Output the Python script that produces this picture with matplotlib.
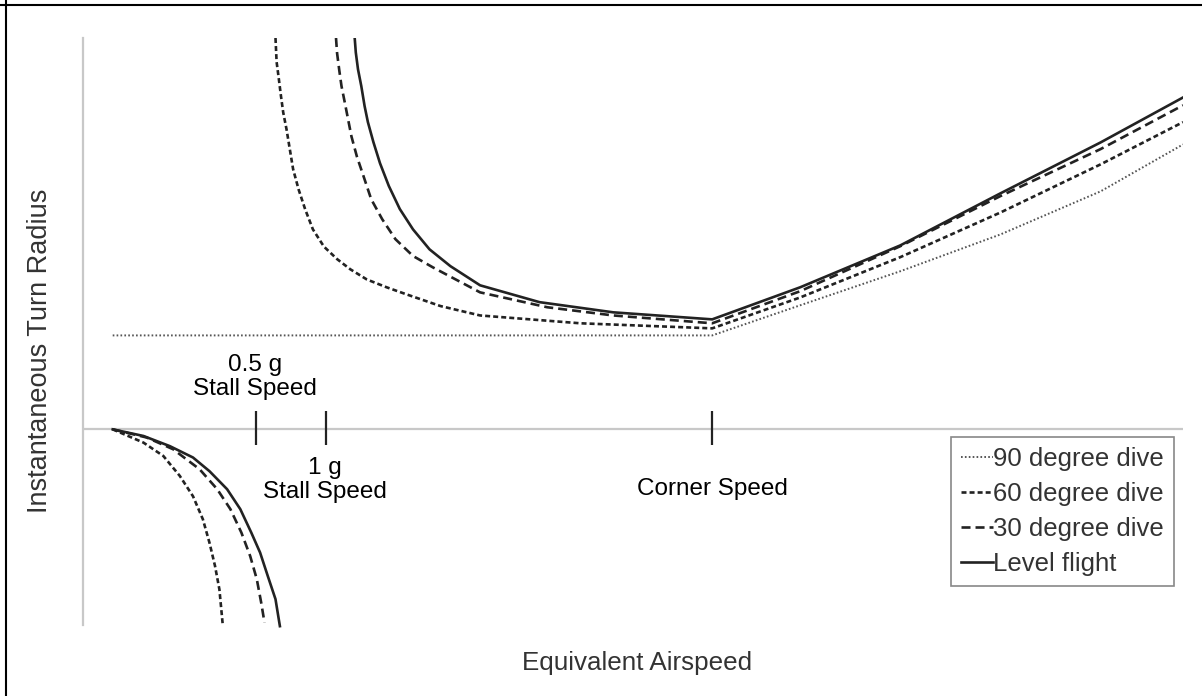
import numpy as np
import matplotlib.pyplot as plt
from matplotlib.lines import Line2D

plt.rcParams['font.family'] = ['Liberation Sans', 'DejaVu Sans']
plt.rcParams['lines.scale_dashes'] = False

# airspeed (0-100) / turn radius (arbitrary units)
# upper branches (positive radius)
lvl_x = [24.7, 24.8, 25.0, 25.3, 25.6, 25.9, 26.4, 27.0, 27.8, 28.8, 30.0, 31.5, 33.4, 36.1, 41.5, 48.2, 57.2,
         65.2, 74.3, 83.4, 92.5, 100.0]
lvl_y = [10.0, 9.63, 9.20, 8.77, 8.26, 7.85, 7.34, 6.80, 6.22, 5.63, 5.11, 4.60, 4.17, 3.68, 3.25, 2.99, 2.81,
         3.63, 4.70, 6.03, 7.33, 8.48]

d30_x = [23.0, 23.1, 23.3, 23.5, 23.8, 24.1, 24.4, 24.9, 25.5, 26.2, 27.2, 28.4, 30.0, 31.8, 36.1, 42.2, 48.2, 57.2,
         65.2, 74.3, 83.4, 92.5, 100.0]
d30_y = [10.0, 9.61, 9.17, 8.77, 8.35, 7.92, 7.49, 6.97, 6.47, 5.88, 5.37, 4.86, 4.43, 4.14, 3.50, 3.12, 2.91, 2.71,
         3.53, 4.68, 5.96, 7.16, 8.28]

d60_x = [17.5, 17.6, 17.8, 18.0, 18.2, 18.5, 18.8, 19.1, 19.6, 20.2, 20.9, 21.9, 23.1, 24.3, 25.8, 27.6, 29.4,
         32.5, 36.1, 45.2, 57.2, 65.2, 74.3, 83.4, 92.5, 100.0]
d60_y = [10.0, 9.39, 8.96, 8.51, 8.10, 7.67, 7.16, 6.65, 6.13, 5.62, 5.11, 4.67, 4.35, 4.09, 3.83, 3.63, 3.45,
         3.15, 2.91, 2.71, 2.58, 3.37, 4.40, 5.54, 6.77, 7.85]

d90_x = [2.7, 57.2, 65.2, 74.3, 83.4, 92.5, 100.0]
d90_y = [2.40, 2.40, 3.17, 4.04, 4.98, 6.08, 7.28]

# lower branches (negative radius)
lvl_lx = [2.7, 5.5, 7.9, 10.0, 11.5, 13.1, 14.3, 15.3, 16.1, 16.8, 17.5, 17.9]
lvl_ly = [0.0, -0.17, -0.43, -0.72, -1.07, -1.53, -2.04, -2.64, -3.15, -3.75, -4.34, -5.03]
d30_lx = [2.7, 5.8, 8.2, 10.6, 12.2, 13.4, 14.4, 15.2, 15.8, 16.2, 16.5]
d30_ly = [0.0, -0.21, -0.51, -1.02, -1.53, -2.04, -2.64, -3.24, -3.83, -4.43, -4.94]
d60_lx = [2.7, 5.5, 7.3, 8.8, 10.0, 10.9, 11.5, 12.0, 12.4, 12.7]
d60_ly = [0.0, -0.34, -0.68, -1.19, -1.71, -2.30, -2.90, -3.49, -4.09, -4.98]

ticks_x = [15.7, 22.1, 57.2]
labels = ['90 degree dive', '60 degree dive', '30 degree dive', 'Level flight']

fig = plt.figure(figsize=(12.02, 6.96), dpi=100)
ax = fig.add_axes([83/1202, 71/696, 1100/1202, 587/696])
ax.set_xlim(0, 100)
ax.set_ylim(-5, 10)
for s in ['top', 'right', 'bottom']:
    ax.spines[s].set_visible(False)
ax.spines['left'].set_color('#c8c8c8')
ax.spines['left'].set_linewidth(1.6)
ax.set_xticks([])
ax.set_yticks([])
ax.axhline(0, color='#c8c8c8', lw=1.6, zorder=1)

ink = '#222222'
dot = (0, (1.2, 1.6))
sdash = (0, (3.6, 2.2))
ldash = (0, (6.5, 3.6))

h90, = ax.plot(d90_x, d90_y, color='#555555', lw=1.4, ls=dot)
h60, = ax.plot(d60_x, d60_y, color=ink, lw=1.9, ls=sdash)
h30, = ax.plot(d30_x, d30_y, color=ink, lw=1.9, ls=ldash)
hl, = ax.plot(lvl_x, lvl_y, color=ink, lw=1.9)
ax.plot(d60_lx, d60_ly, color=ink, lw=1.9, ls=sdash, clip_on=False)
ax.plot(d30_lx, d30_ly, color=ink, lw=1.9, ls=ldash, clip_on=False)
ax.plot(lvl_lx, lvl_ly, color=ink, lw=1.9, clip_on=False)

ax.vlines(ticks_x, -0.41, 0.46, color=ink, lw=1.6)

ax.text(15.6, 1.34, '0.5 g\nStall Speed', ha='center', va='center', fontsize=17.5, linespacing=1.1, color='black')
ax.text(22.0, -1.30, '1 g\nStall Speed', ha='center', va='center', fontsize=17.5, linespacing=1.1, color='black')
ax.text(57.2, -1.53, 'Corner Speed', ha='center', va='center', fontsize=17.5, color='black')

leg = ax.legend([h90, h60, h30, hl], labels, loc='upper right', bbox_to_anchor=(0.9918, 0.3203),
                borderaxespad=0, fontsize=18.5, handlelength=1.25, handletextpad=0.0,
                labelspacing=0.42, borderpad=0.4, fancybox=False, framealpha=1)
leg.get_frame().set_edgecolor('#888888')
leg.get_frame().set_linewidth(1.2)
for t in leg.get_texts():
    t.set_color('#333333')

fig.text(637/1202, 1 - 663/696, 'Equivalent Airspeed', ha='center', va='center', fontsize=18.7, color='#333333')
fig.text(40/1202, 1 - 351/696, 'Instantaneous Turn Radius', ha='center', va='center', rotation=90, fontsize=19.5, color='#333333')

# frame lines at top and left edge of the picture
fig.add_artist(Line2D([0, 1], [1 - 5/696, 1 - 5/696], color='black', lw=1.5, transform=fig.transFigure))
fig.add_artist(Line2D([6/1202, 6/1202], [0, 1], color='black', lw=1.5, transform=fig.transFigure))

plt.savefig('out.png', dpi=100)
